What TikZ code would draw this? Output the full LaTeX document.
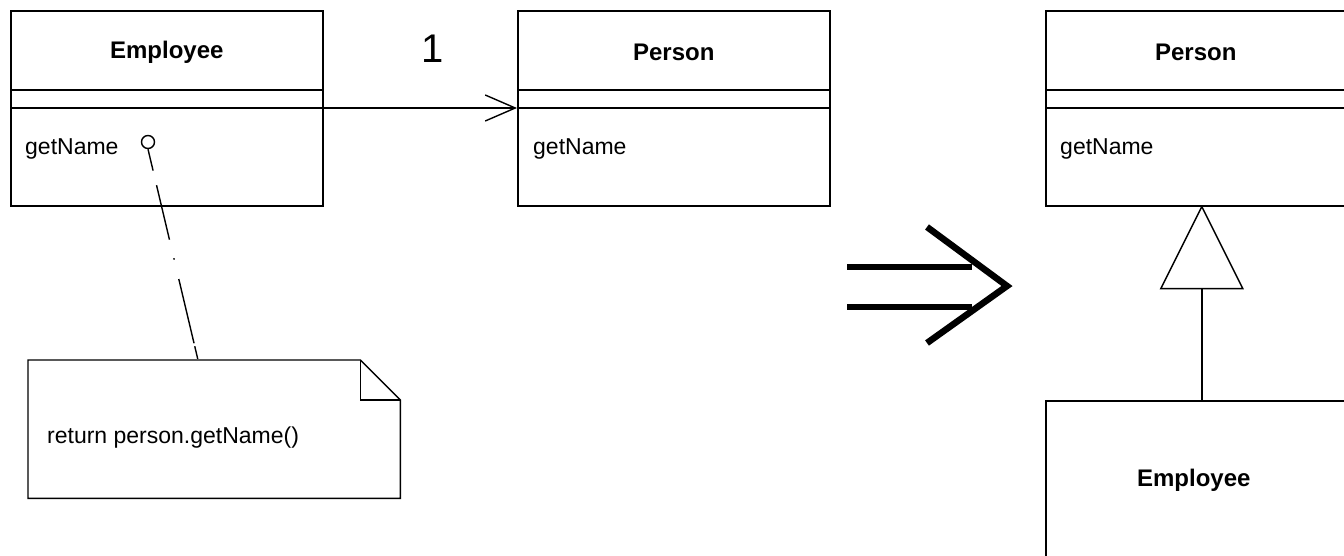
\documentclass[tikz,border=0pt]{standalone}
\usepackage{fontspec}
\setmainfont{Liberation Sans}
\usetikzlibrary{calc,arrows.meta}
\begin{document}
\begin{tikzpicture}[x=1pt,y=-1pt,
  box/.style={draw, line width=1.6pt, minimum width=312pt, minimum height=195pt, anchor=north west, inner sep=0pt},
  plainbox/.style={minimum width=372pt, minimum height=138pt, anchor=north west, inner sep=0pt},
  sep/.style={line width=1.6pt},
  thinline/.style={line width=1.4pt},
  title/.style={font=\fontsize{24}{28}\selectfont\bfseries, inner sep=0pt},
  op/.style={font=\fontsize{23}{27}\selectfont, anchor=west, inner sep=0pt},
  bigarrow/.style={line width=6.5pt},
  notelink/.style={line width=1.4pt, dash pattern=on 22pt off 15pt on 56pt off 19pt on 1.5pt off 20pt on 66pt off 3pt on 13pt}
]
\useasboundingbox (0,0) rectangle (1344,556);
\clip (0,0) rectangle (1344,556);

% ---- left Employee class
\node[box] (E) at (10,10) {};
\draw[sep] ($(E.north west)+(0,80)$) -- ($(E.north east)+(0,80)$);
\draw[sep] ($(E.north west)+(0,98)$) -- ($(E.north east)+(0,98)$);
\node[title] (Et) at ($(E.north)+(0,42)$) {Employee};
\node[op] (Eop) at ($(E.north west)+(15,139)$) {getName};
\node[circle, draw, line width=1.4pt, minimum size=13pt, inner sep=0pt] (lol) at (148,142) {};

% ---- middle Person class
\node[box] (P) at (517,10) {};
\draw[sep] ($(P.north west)+(0,80)$) -- ($(P.north east)+(0,80)$);
\draw[sep] ($(P.north west)+(0,98)$) -- ($(P.north east)+(0,98)$);
\node[title] (Pt) at ($(P.north)+(0,42)$) {Person};
\node[op] (Pop) at ($(P.north west)+(16,139)$) {getName};

% association
\draw[sep, -{Straight Barb[length=30pt, width=26pt, line width=1.4pt]}] ($(E.north east)+(0,98)$) -- ($(P.north west)+(0,98)$);
\node[font=\fontsize{40}{44}\selectfont, inner sep=0pt] (mult) at (433,49) {1};

% ---- note
\node[plainbox] (N) at (28,360) {};
\draw[thinline] (N.north west) -- ($(N.north east)+(-40,0)$) -- ($(N.north east)+(0,40)$) -- (N.south east) -- (N.south west) -- cycle;
\draw[thinline] ($(N.north east)+(-40,0)$) -- ($(N.north east)+(-40,40)$) -- ($(N.north east)+(0,40)$);
\node[op] (Nt) at ($(N.west)+(19,8)$) {return person.getName()};
\coordinate (Ntop) at ($(N.north west)+(170,0)$);
\draw[notelink] (lol.south) -- (Ntop);

% ---- big refactoring arrow
\coordinate (a1) at (847,267);
\coordinate (a2) at (972,267);
\coordinate (a3) at (847,307);
\coordinate (a4) at (972,307);
\coordinate (c1) at (927,227);
\coordinate (c2) at (1007,286);
\coordinate (c3) at (927,343);
\draw[bigarrow] (a1) -- (a2);
\draw[bigarrow] (a3) -- (a4);
\draw[bigarrow, line join=miter] (c1) -- (c2) -- (c3);

% ---- right Person class
\node[box] (P2) at (1045,10) {};
\draw[sep] ($(P2.north west)+(0,80)$) -- ($(P2.north east)+(0,80)$);
\draw[sep] ($(P2.north west)+(0,98)$) -- ($(P2.north east)+(0,98)$);
\node[title] (P2t) at ($(P2.north)+(-6,42)$) {Person};
\node[op] (P2op) at ($(P2.north west)+(15,139)$) {getName};

% ---- right Employee class
\node[box] (E2) at (1045,400) {};
\node[title] (E2t) at ($(E2.north)+(-8,80)$) {Employee};

% generalization
\draw[thinline] (E2.north) -- ($(P2.south)+(0,82)$);
\draw[thinline, line join=miter] (P2.south) -- ++(-41,82) -- ++(82,0) -- cycle;
\end{tikzpicture}
\end{document}
